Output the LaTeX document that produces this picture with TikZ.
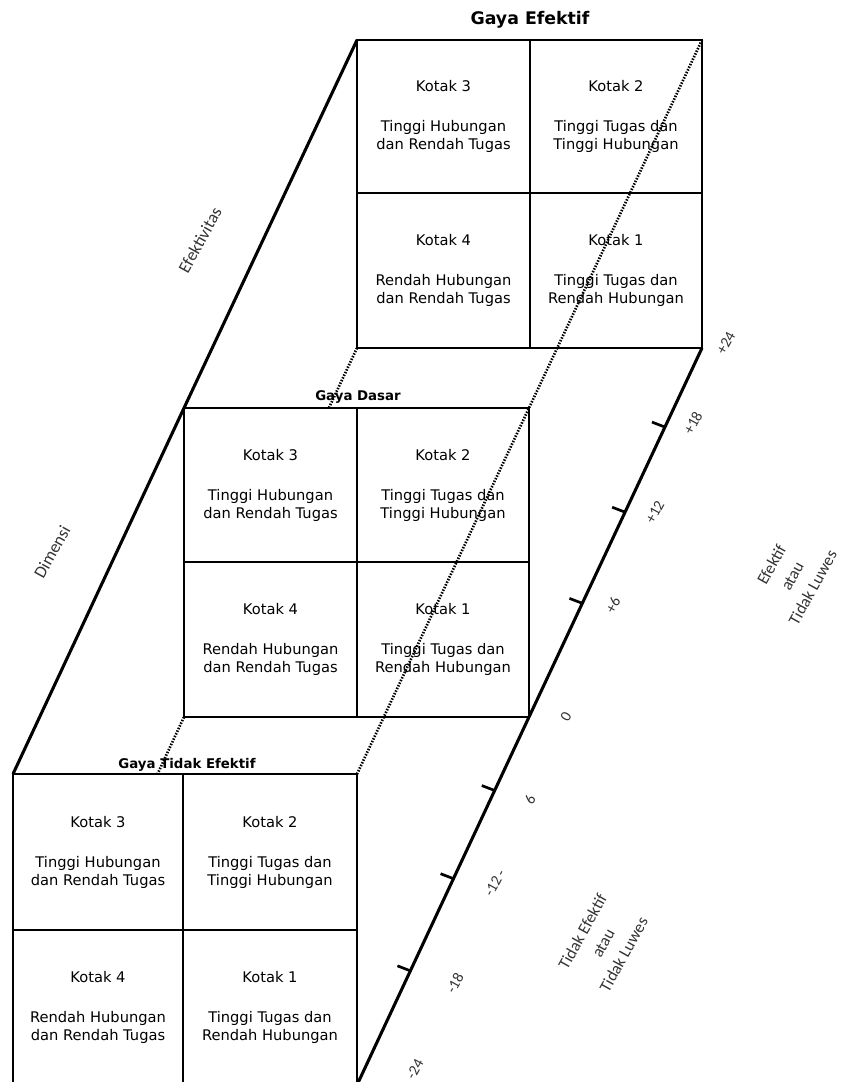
\documentclass[tikz,border=0pt]{standalone}
\usepackage{fontspec}
\setmainfont{DejaVu Sans}
\newfontfamily\labfont{Carlito}
\begin{document}
\begin{tikzpicture}[x=0.75pt,y=-0.75pt,
  outer/.style={line width=1.9pt,fill=white},
  inner/.style={line width=1.4pt},
  diag/.style={line width=2.3pt},
  dots/.style={line width=2pt,dash pattern=on 1.1pt off 1.1pt},
  tickmark/.style={line width=2pt},
  cell/.style={align=center,inner sep=0pt,font=\fontsize{11}{13.5}\selectfont},
  ttl/.style={inner sep=0pt,font=\bfseries\fontsize{10}{12}\selectfont},
  rlab/.style={rotate=61,inner sep=0pt,text=black!80,align=center,font=\labfont\fontsize{12.5}{17.6}\selectfont},
  nlab/.style={rotate=61,inner sep=0pt,text=black!80,font=\labfont\fontsize{11.5}{13}\selectfont}]
\useasboundingbox (0,0) rectangle (841,1082);
\clip (0,0) rectangle (841,1082);
% corners
\coordinate (tTL) at (357,40);  \coordinate (tTR) at (702,40);
\coordinate (tBL) at (357,348); \coordinate (tBR) at (702,348);
\coordinate (mTL) at (184,408); \coordinate (mTR) at (529,408);
\coordinate (mBL) at (184,717); \coordinate (mBR) at (529,717);
\coordinate (bTL) at (13,774);  \coordinate (bTR) at (357,774);
\coordinate (bBL) at (13,1085); \coordinate (bBR) at (357,1085);
% hidden edge (dotted), covered by the grids
\draw[dots] (tBL) -- (mBL) -- (bBL);
% top grid
\draw[outer] (tTL) rectangle (tBR);
\draw[inner] (530,40) -- (530,348) (357,193) -- (702,193);
% middle grid
\draw[outer] (mTL) rectangle (mBR);
\draw[inner] (357,408) -- (357,717) (184,562) -- (529,562);
% bottom grid
\draw[outer] (bTL) rectangle (bBR);
\draw[inner] (183,774) -- (183,1085) (13,930) -- (357,930);
% texts in the cells
\foreach \px/\py/\nm in {443.5/116.5/t, 270.5/485/m, 98/852/b}{
  \node[cell] (\nm3) at (\px,\py) {Kotak 3\\[16.5pt]Tinggi Hubungan\\dan Rendah Tugas};
}
\foreach \px/\py/\nm in {616/116.5/t, 443/485/m, 270/852/b}{
  \node[cell] (\nm2) at (\px,\py) {Kotak 2\\[16.5pt]Tinggi Tugas dan\\Tinggi Hubungan};
}
\foreach \px/\py/\nm in {443.5/270.5/t, 270.5/639.5/m, 98/1007/b}{
  \node[cell] (\nm4) at (\px,\py) {Kotak 4\\[16.5pt]Rendah Hubungan\\dan Rendah Tugas};
}
\foreach \px/\py/\nm in {616/270.5/t, 443/639.5/m, 270/1007/b}{
  \node[cell] (\nm1) at (\px,\py) {Kotak 1\\[16.5pt]Tinggi Tugas dan\\Rendah Hubungan};
}
% titles
\node[ttl,font=\bfseries\fontsize{13}{15}\selectfont] (gE) at (530,20) {Gaya Efektif};
\node[ttl] (gD) at (358,397) {Gaya Dasar};
\node[ttl] (gT) at (187,765) {Gaya Tidak Efektif};
% front dotted edge and solid edges
\draw[dots] (tTR) -- (mTR) -- (bTR);
\draw[diag] (tTL) -- (mTL) -- (bTL);
\draw[diag] (tBR) -- (mBR) -- (bBR);
% ticks on the axis
\path (tBR) -- (bBR)
  coordinate[pos=0.1073] (k1) coordinate[pos=0.2228] (k2) coordinate[pos=0.3465] (k3)
  coordinate[pos=0.6005] (k4) coordinate[pos=0.7201] (k5) coordinate[pos=0.8451] (k6);
\foreach \k in {k1,k2,k3,k4,k5,k6}{ \draw[tickmark] (\k) -- ++(-13,-5); }
% axis numbers
\node[nlab] (n24) at (726,343) {+24};
\node[nlab] (n18) at (693,423) {+18};
\node[nlab] (n12) at (655,512) {+12};
\node[nlab] (n6) at (613,605) {+6};
\node[nlab] (n0) at (566,717) {0};
\node[nlab] (m6) at (530,800) {6};
\node[nlab] (m12) at (495,883) {-12 -};
\node[nlab] (m18) at (455,983) {-18};
\node[nlab] (m24) at (415,1069) {-24};
% side labels
\node[rlab,font=\labfont\fontsize{13}{16}\selectfont] (eff) at (200,240) {Efektivitas};
\node[rlab,font=\labfont\fontsize{13}{16}\selectfont] (dim) at (52,552) {Dimensi};
\node[rlab] (pos) at (792,576) {Efektif\\atau\\Tidak Luwes};
\node[rlab] (neg) at (603,943) {Tidak Efektif\\atau\\Tidak Luwes};
\end{tikzpicture}
\end{document}
